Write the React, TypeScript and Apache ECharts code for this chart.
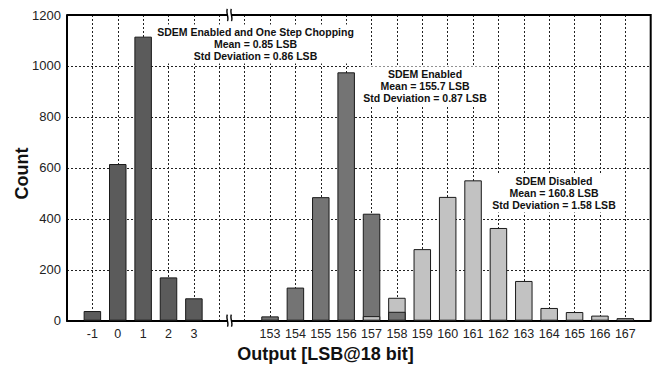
import React, { useEffect, useRef } from 'react';
import * as echarts from 'echarts';

// Tick labels along the (broken) output axis, one per slot
const xTickLabels = ['-1', '0', '1', '2', '3', '', '', '153', '154', '155', '156', '157', '158', '159', '160', '161', '162', '163', '164', '165', '166', '167'];

// SDEM Enabled and One Step Chopping
const chopOutputs = ['-1', '0', '1', '2', '3'];
const chopCounts = [38, 615, 1115, 170, 88];

// SDEM Enabled
const enabledOutputs = ['153', '154', '155', '156', '157', '158'];
const enabledCounts = [17, 130, 485, 975, 420, 35];

// SDEM Disabled
const disabledOutputs = ['157', '158', '159', '160', '161', '162', '163', '164', '165', '166', '167'];
const disabledCounts = [18, 90, 281, 486, 551, 364, 156, 50, 34, 20, 10];

const xMin = -1;
const xMax = 22;
const yMin = 0;
const yMax = 1200;
const yInterval = 200;

const chopNote = ['SDEM Enabled and One Step Chopping', 'Mean = 0.85 LSB', 'Std Deviation = 0.86 LSB'];
const enabledNote = ['SDEM Enabled', 'Mean = 155.7 LSB', 'Std Deviation = 0.87 LSB'];
const disabledNote = ['SDEM Disabled', 'Mean = 160.8 LSB', 'Std Deviation = 1.58 LSB'];

const FONT = '"Liberation Sans", Arial, Helvetica, sans-serif';

const pos = (label: string) => xTickLabels.indexOf(label);

const breakPath = 'M2 0 C0 3 4 9 2 12 M6 0 C4 3 8 9 6 12';
echarts.graphic.registerShape('breakMark', echarts.graphic.extendPath(breakPath, {}) as any);

export default function App() {
  const ref = useRef<HTMLDivElement>(null);

  useEffect(() => {
    document.body.style.margin = '0';
    if (!ref.current) return;
    const chart = echarts.init(ref.current, null, { renderer: 'svg' });

    const disabledMap: Record<string, number> = {};
    disabledOutputs.forEach((o, i) => (disabledMap[o] = disabledCounts[i]));

    const enabledBack: [number, number][] = [];
    const enabledFront: [number, number][] = [];
    enabledOutputs.forEach((o, i) => {
      const v = enabledCounts[i];
      const d = disabledMap[o];
      if (d !== undefined && v < d) enabledFront.push([pos(o), v]);
      else enabledBack.push([pos(o), v]);
    });

    const barCommon = {
      type: 'bar' as const,
      barWidth: 17.5,
      barGap: '-100%',
      itemStyle: { borderColor: '#1a1a1a', borderWidth: 1 },
    };

    chart.setOption({
      animation: false,
      grid: { left: 67, right: 6.3, top: 15, bottom: 46.3 },
      xAxis: {
        type: 'value',
        min: xMin,
        max: xMax,
        interval: 1,
        axisLine: { show: true, onZero: false, lineStyle: { color: '#000', width: 2 } },
        axisTick: { show: false },
        splitLine: { show: true, lineStyle: { color: '#222', type: [2, 2], width: 1 } },
        axisLabel: {
          fontFamily: FONT,
          fontSize: 12.5,
          color: '#222',
          margin: 7,
          formatter: (v: number) => (Number.isInteger(v) && v >= 0 && v < xTickLabels.length ? xTickLabels[v] : ''),
        },
      },
      yAxis: {
        type: 'value',
        min: yMin,
        max: yMax,
        interval: yInterval,
        axisLine: { show: true, onZero: false, lineStyle: { color: '#000', width: 2 } },
        axisTick: { show: false },
        splitLine: { show: true, lineStyle: { color: '#222', type: [2, 2], width: 1 } },
        axisLabel: { fontFamily: FONT, fontSize: 13, color: '#222', margin: 6, formatter: (v: number) => String(v) },
      },
      series: [
        { ...barCommon, name: 'Chopping', data: chopOutputs.map((o, i) => [pos(o), chopCounts[i]]), itemStyle: { ...barCommon.itemStyle, color: '#5b5b5b' } },
        { ...barCommon, name: 'Enabled', data: enabledBack, itemStyle: { ...barCommon.itemStyle, color: '#747474' } },
        { ...barCommon, name: 'Disabled', data: disabledOutputs.map((o, i) => [pos(o), disabledCounts[i]]), itemStyle: { ...barCommon.itemStyle, color: '#c2c2c2' } },
        { ...barCommon, name: 'Enabled front', data: enabledFront, itemStyle: { ...barCommon.itemStyle, color: '#747474' } },
      ],
    });

    const cv = (x: number, y: number) => chart.convertToPixel({ xAxisIndex: 0, yAxisIndex: 0 }, [x, y]) as number[];
    const tl = cv(xMin, yMax);
    const br = cv(xMax, yMin);
    const top = cv(5.4, yMax);
    const bottom = cv(5.4, yMin);

    const noteText = (lines: string[], x: number, y: number) => ({
      type: 'text',
      x,
      y,
      z: 50,
      style: {
        text: lines.join('\n'),
        fontFamily: FONT,
        fontWeight: 'bold',
        fontSize: 10.5,
        lineHeight: 12.3,
        fill: '#111',
        align: 'center',
        verticalAlign: 'top',
        backgroundColor: '#fff',
        padding: [1, 2],
      },
    });

    const breakAt = (p: number[]) => [
      { type: 'rect', z: 60, shape: { x: p[0] - 2, y: p[1] - 2, width: 4, height: 4 }, style: { fill: '#fff' } },
      { type: 'breakMark', z: 61, x: p[0] - 4, y: p[1] - 6, style: { stroke: '#000', lineWidth: 1.4, fill: 'none' } },
    ];

    chart.setOption({
      graphic: [
        {
          type: 'polyline',
          z: 40,
          shape: { points: [[tl[0], tl[1]], [br[0], tl[1]], [br[0], br[1]]] },
          style: { stroke: '#000', lineWidth: 2, fill: 'none' },
        },
        noteText(chopNote, 255.5, 24.5),
        noteText(enabledNote, 425, 66.5),
        noteText(disabledNote, 554, 173.5),
        ...breakAt(top),
        ...breakAt(bottom),
        {
          type: 'text',
          x: 22,
          y: 173.5,
          rotation: Math.PI / 2,
          style: { text: 'Count', fontFamily: FONT, fontWeight: 'bold', fontSize: 18, fill: '#111', align: 'center', verticalAlign: 'middle' },
        },
        {
          type: 'text',
          x: 325.5,
          y: 354,
          style: { text: 'Output [LSB@18 bit]', fontFamily: FONT, fontWeight: 'bold', fontSize: 18, fill: '#111', align: 'center', verticalAlign: 'middle' },
        },
      ],
    });

    return () => chart.dispose();
  }, []);

  return <div ref={ref} style={{ width: 657, height: 367 }} />;
}
